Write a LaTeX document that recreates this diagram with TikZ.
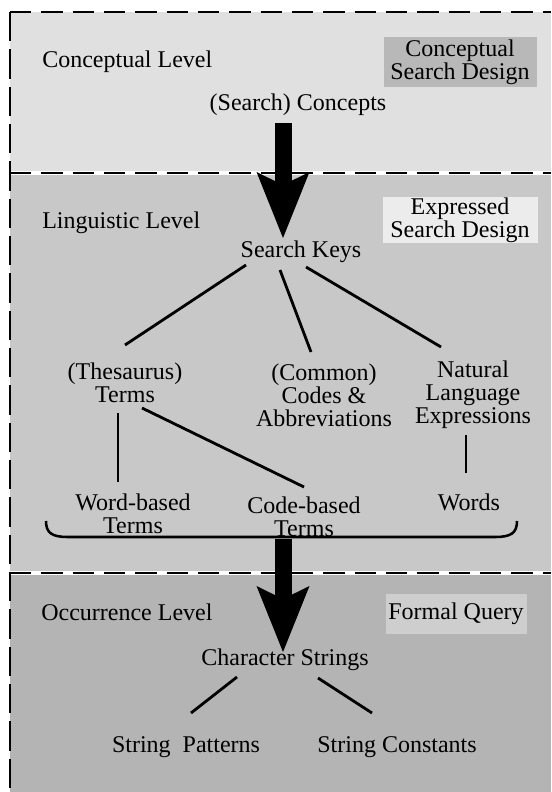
\documentclass[tikz,border=0pt]{standalone}
\usepackage{fontspec}
\setmainfont{Liberation Serif}
\usetikzlibrary{calc,arrows.meta}

\definecolor{conceptgray}{RGB}{224,224,224}
\definecolor{lingugray}{RGB}{200,200,200}
\definecolor{occurgray}{RGB}{180,180,180}
\definecolor{cboxgray}{RGB}{184,184,184}
\definecolor{eboxgray}{RGB}{236,236,236}
\definecolor{fboxgray}{RGB}{206,206,206}

\tikzset{
  lbl/.style={inner sep=0.75pt, align=center, font=\fontsize{18}{17.3}\selectfont},
  level/.style={lbl, anchor=west},
  link/.style={line width=2.1pt},
  bracket/.style={line width=1.9pt},
  levelline/.style={line width=2pt, dash pattern=on 16pt off 7.5pt},
  sideline/.style={line width=1.6pt, dash pattern=on 22pt off 6pt},
  bigarrow/.style={line width=12.75pt, -{Stealth[length=49.5pt,width=39.75pt,inset=9.75pt,line width=0pt]}},
}

\begin{document}
\begin{tikzpicture}[x=0.75pt,y=0.75pt,yscale=-1,xscale=1]
\useasboundingbox (0,0) rectangle (551,792);

% level backgrounds
\fill[conceptgray] (10,12) rectangle (551,173);
\fill[lingugray] (10,173) rectangle (551,573);
\fill[occurgray] (10,573) rectangle (551,792);

% level borders
\draw[white, line width=3pt] (10,173) -- (551,173);
\draw[white, line width=3pt] (10,573) -- (551,573);
\draw[sideline] (10,12) -- (10,792);
\draw[levelline] (10,12) -- (551,12);
\draw[levelline] (10,173) -- (551,173);
\draw[levelline] (10,573) -- (551,573);

% Conceptual Level
\node[level] (clevel) at (41,62) {Conceptual Level};
\node[lbl, fill=cboxgray, minimum width=114.75pt, minimum height=37.5pt] (cdesign) at (460,62) {Conceptual\\Search Design};
\node[lbl] (concepts) at (298,105) {(Search) Concepts};

% Linguistic Level
\node[level] (llevel) at (41,223) {Linguistic Level};
\node[lbl, fill=eboxgray, minimum width=116.25pt, minimum height=34.5pt] (edesign) at (460,220) {Expressed\\Search Design};
\node[lbl] (keys) at (301,252) {Search Keys};
\node[lbl] (thes) at (125,383) {(Thesaurus)\\Terms};
\node[lbl] (codes) at (324,395) {(Common)\\Codes \&\\Abbreviations};
\node[lbl] (natural) at (473,395) {Natural\\Language\\Expressions};
\node[lbl] (wterms) at (133,514) {Word-based\\Terms};
\node[lbl] (cterms) at (304,517) {Code-based\\Terms};
\node[lbl] (words) at (469,502) {Words};

\draw[link] ($(keys)+(-55,13)$) -- ($(thes)+(0,-38)$);
\draw[link] ($(keys)+(-21,18)$) -- ($(codes)+(-13,-43)$);
\draw[link] ($(keys)+(5,15)$) -- ($(natural)+(-32,-48)$);
\draw[link] ($(thes)+(-7,30)$) -- ($(wterms)+(-15,-32)$);
\draw[link] ($(thes)+(17,25)$) -- ($(cterms)+(0,-30)$);
\draw[link] ($(natural)+(-7,40)$) -- ($(words)+(-3,-29)$);

% brace under the key types
\draw[bracket] (46,521) .. controls (46,533) and (52,537) .. (68,537) -- (495,537) .. controls (511,537) and (517,533) .. (517,521);
\coordinate (group) at (283,539);

% Occurrence Level
\node[level] (olevel) at (40,612) {Occurrence Level};
\node[lbl, fill=fboxgray, minimum width=105.75pt, minimum height=30pt] (fquery) at (456,614) {Formal Query};
\node[lbl] (chars) at (285,660) {Character Strings};
\node[lbl] (pat) at (186,747) {String~ Patterns};
\node[lbl] (con) at (397,747) {String Constants};

\draw[link] ($(chars)+(-48,17)$) -- ($(pat)+(5,-34)$);
\draw[link] ($(chars)+(33,18)$) -- ($(con)+(-25,-34)$);

% level transitions
\draw[bigarrow] ($(concepts)+(-15,18)$) -- ($(keys)+(-18,-14)$);
\draw[bigarrow] (group) -- ($(chars)+(-2,-8)$);

\end{tikzpicture}
\end{document}
